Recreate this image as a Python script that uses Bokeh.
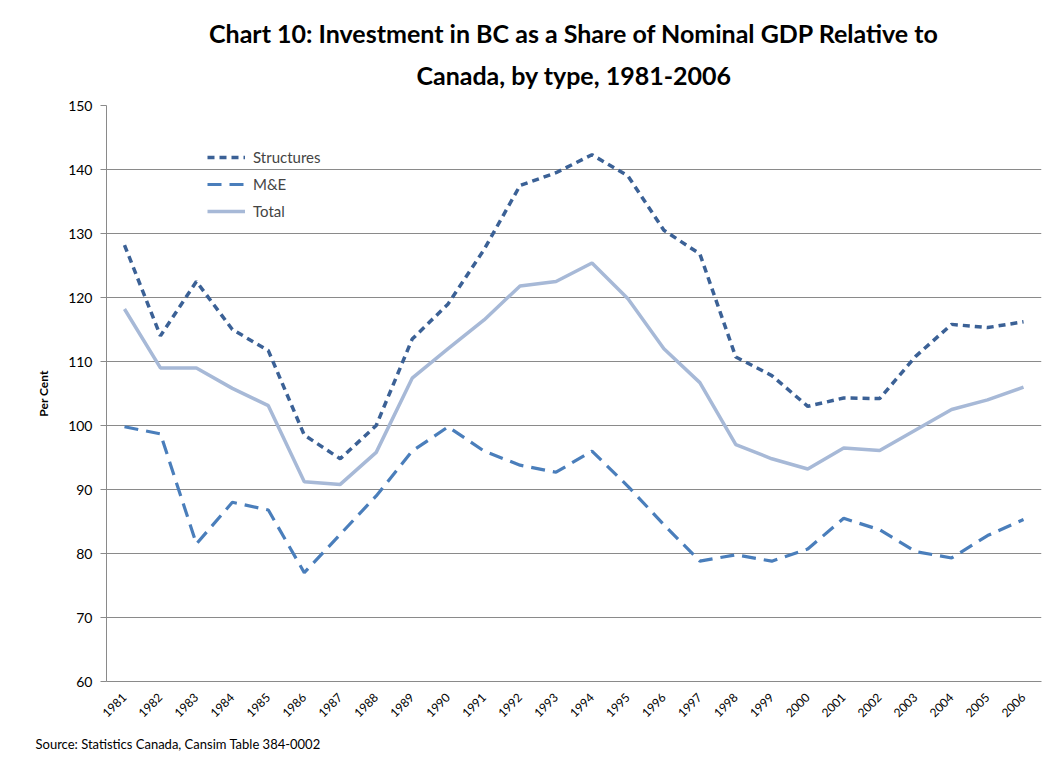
from bokeh.plotting import figure
from bokeh.models import Legend, LegendItem, FixedTicker, Range1d, Title
from bokeh.embed import file_html
from bokeh.resources import INLINE
import math

years = list(range(1981, 2007))
structures = [128.2, 114.0, 122.5, 115.0, 111.7, 98.5, 94.8, 100.0, 113.5, 119.0,
              127.5, 137.5, 139.5, 142.3, 139.0, 130.5, 126.8, 110.7, 107.8, 103.0,
              104.3, 104.2, 110.8, 115.8, 115.3, 116.2]
mande = [99.8, 98.7, 81.5, 88.0, 86.8, 77.0, 83.0, 89.0, 96.0, 99.8,
         96.0, 93.8, 92.7, 96.0, 90.5, 84.5, 78.8, 79.8, 78.8, 80.7,
         85.5, 83.7, 80.3, 79.3, 82.8, 85.3]
total = [118.2, 109.0, 109.0, 105.8, 103.1, 91.2, 90.8, 95.8, 107.4, 112.0,
         116.5, 121.8, 122.5, 125.4, 119.8, 112.0, 106.7, 97.0, 94.8, 93.2,
         96.5, 96.1, 99.3, 102.5, 104.0, 106.0]
y_ticks = [60, 70, 80, 90, 100, 110, 120, 130, 140, 150]

FONT = "Lato"

p = figure(width=1042, height=762, output_backend="svg", toolbar_location=None,
           x_range=Range1d(1980.5, 2006.5), y_range=Range1d(60, 150),
           min_border_left=106, min_border_right=1, min_border_top=105, min_border_bottom=80)
p.outline_line_color = None
p.background_fill_color = "white"

p.xaxis.ticker = FixedTicker(ticks=years)
p.yaxis.ticker = FixedTicker(ticks=y_ticks)
p.xgrid.grid_line_color = None
p.ygrid.grid_line_color = "#8a8a8a"
p.ygrid.grid_line_width = 1

for ax in (p.xaxis, p.yaxis):
    ax.axis_line_color = "#8a8a8a"
    ax.major_label_text_font = FONT
    ax.major_label_text_color = "#000000"
    ax.minor_tick_line_color = None
p.xaxis.major_tick_line_color = None
p.xaxis.major_label_orientation = math.pi / 4
p.xaxis.major_label_text_font_size = "12px"
p.xaxis.major_label_standoff = 8
p.yaxis.major_tick_line_color = "#8a8a8a"
p.yaxis.major_tick_out = 6
p.yaxis.major_tick_in = 0
p.yaxis.major_label_text_font_size = "14px"
p.yaxis.major_label_standoff = 8
p.yaxis.axis_label = "Per Cent"
p.yaxis.axis_label_text_font = FONT
p.yaxis.axis_label_text_font_style = "bold"
p.yaxis.axis_label_text_font_size = "12px"
p.yaxis.axis_label_text_color = "#000000"
p.yaxis.axis_label_standoff = 14

r1 = p.line(years, structures, line_color="#3b6196", line_width=3.5, line_dash="7 5")
r2 = p.line(years, mande, line_color="#4a7ebb", line_width=3.2, line_dash="14 8")
r3 = p.line(years, total, line_color="#a7b9d7", line_width=3.5)

legend = Legend(items=[LegendItem(label="Structures", renderers=[r1]),
                       LegendItem(label="M&E", renderers=[r2]),
                       LegendItem(label="Total", renderers=[r3])],
                location=(101, 460), glyph_width=38, glyph_height=20, label_height=20,
                spacing=7, padding=0, margin=0, border_line_color=None,
                background_fill_alpha=0, label_text_font=FONT, label_text_font_size="15px",
                label_standoff=8)
p.add_layout(legend, "center")

t2 = Title(text="Canada, by type, 1981-2006", align="center", offset=-40,
           text_font=FONT, text_font_style="bold", text_font_size="25px",
           text_color="#000000", standoff=31)
t1 = Title(text="Chart 10: Investment in BC as a Share of Nominal GDP Relative to",
           align="center", offset=-40, text_font=FONT, text_font_style="bold",
           text_font_size="25px", text_color="#000000", standoff=-10)
p.add_layout(t2, "above")
p.add_layout(t1, "above")

src = Title(text="Source: Statistics Canada, Cansim Table 384-0002", align="left", offset=-71,
            text_font=FONT, text_font_style="normal", text_font_size="13px",
            text_color="#000000", standoff=21)
p.add_layout(src, "below")

open("out.html", "w").write(file_html(p, INLINE))
